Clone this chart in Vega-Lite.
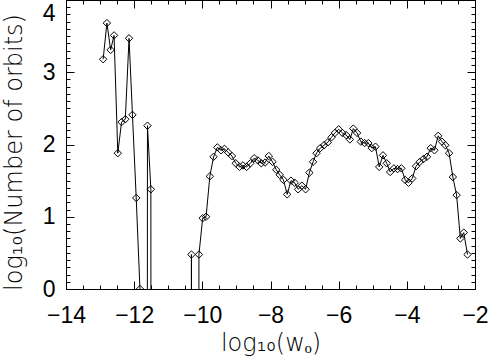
{
  "$schema": "https://vega.github.io/schema/vega-lite/v6.json",
  "width": 409,
  "height": 289,
  "autosize": "none",
  "padding": {"left": 66, "top": 0, "right": 16, "bottom": 70},
  "background": "white",
  "config": {
    "view": {"stroke": "black", "strokeWidth": 1},
    "axis": {
      "grid": false,
      "labelFont": "Liberation Sans",
      "labelFontSize": 23,
      "labelColor": "black",
      "titleFont": "DejaVu Sans",
      "titleFontSize": 24,
      "titleFontWeight": 300,
      "titleColor": "black",
      "domainColor": "black",
      "tickColor": "black",
      "tickWidth": 1,
      "domainWidth": 1,
      "labelOverlap": false
    }
  },
  "data": {
    "values": [
      {"x": -12.91, "y": 3.18}, {"x": -12.80, "y": 3.68}, {"x": -12.69, "y": 3.31}, {"x": -12.59, "y": 3.51},
      {"x": -12.48, "y": 1.88}, {"x": -12.37, "y": 2.31}, {"x": -12.26, "y": 2.35}, {"x": -12.15, "y": 3.47},
      {"x": -12.05, "y": 2.41}, {"x": -11.94, "y": 1.26}, {"x": -11.83, "y": 0}, {"x": -11.72, "y": -99},
      {"x": -11.61, "y": 2.26}, {"x": -11.51, "y": 1.38}, {"x": -11.40, "y": -99}, {"x": -11.29, "y": -99},
      {"x": -11.18, "y": -99}, {"x": -11.07, "y": -99}, {"x": -10.97, "y": -99}, {"x": -10.86, "y": -99},
      {"x": -10.75, "y": -99}, {"x": -10.64, "y": -99}, {"x": -10.53, "y": -99}, {"x": -10.43, "y": -99},
      {"x": -10.32, "y": 0.477}, {"x": -10.21, "y": -99}, {"x": -10.10, "y": 0.477}, {"x": -9.99, "y": 0.98},
      {"x": -9.89, "y": 1.0}, {"x": -9.78, "y": 1.56}, {"x": -9.67, "y": 1.83}, {"x": -9.56, "y": 1.96},
      {"x": -9.45, "y": 1.92}, {"x": -9.35, "y": 1.94}, {"x": -9.24, "y": 1.89}, {"x": -9.13, "y": 1.84},
      {"x": -9.02, "y": 1.74}, {"x": -8.91, "y": 1.69}, {"x": -8.81, "y": 1.71}, {"x": -8.70, "y": 1.69},
      {"x": -8.59, "y": 1.74}, {"x": -8.48, "y": 1.81}, {"x": -8.37, "y": 1.78}, {"x": -8.27, "y": 1.74},
      {"x": -8.16, "y": 1.75}, {"x": -8.05, "y": 1.84}, {"x": -7.94, "y": 1.76}, {"x": -7.83, "y": 1.65},
      {"x": -7.73, "y": 1.58}, {"x": -7.62, "y": 1.51}, {"x": -7.51, "y": 1.31}, {"x": -7.40, "y": 1.50},
      {"x": -7.29, "y": 1.47}, {"x": -7.19, "y": 1.38}, {"x": -7.08, "y": 1.43}, {"x": -6.97, "y": 1.38},
      {"x": -6.86, "y": 1.61}, {"x": -6.75, "y": 1.76}, {"x": -6.65, "y": 1.88}, {"x": -6.54, "y": 1.95},
      {"x": -6.43, "y": 1.99}, {"x": -6.32, "y": 2.03}, {"x": -6.21, "y": 2.10}, {"x": -6.11, "y": 2.16},
      {"x": -6.00, "y": 2.21}, {"x": -5.89, "y": 2.16}, {"x": -5.78, "y": 2.13}, {"x": -5.67, "y": 2.07},
      {"x": -5.57, "y": 2.22}, {"x": -5.46, "y": 2.16}, {"x": -5.35, "y": 2.04}, {"x": -5.24, "y": 2.02},
      {"x": -5.13, "y": 2.02}, {"x": -5.03, "y": 1.95}, {"x": -4.92, "y": 1.97}, {"x": -4.81, "y": 1.69},
      {"x": -4.70, "y": 1.85}, {"x": -4.59, "y": 1.74}, {"x": -4.49, "y": 1.62}, {"x": -4.38, "y": 1.67},
      {"x": -4.27, "y": 1.66}, {"x": -4.16, "y": 1.67}, {"x": -4.05, "y": 1.51}, {"x": -3.95, "y": 1.47},
      {"x": -3.84, "y": 1.53}, {"x": -3.73, "y": 1.70}, {"x": -3.62, "y": 1.76}, {"x": -3.51, "y": 1.80},
      {"x": -3.41, "y": 1.83}, {"x": -3.30, "y": 1.95}, {"x": -3.19, "y": 1.92}, {"x": -3.08, "y": 2.12},
      {"x": -2.97, "y": 2.04}, {"x": -2.87, "y": 1.99}, {"x": -2.76, "y": 1.88}, {"x": -2.65, "y": 1.55},
      {"x": -2.54, "y": 1.30}, {"x": -2.43, "y": 0.70}, {"x": -2.33, "y": 0.78}, {"x": -2.22, "y": 0.477}
    ]
  },
  "layer": [
    {
      "mark": {"type": "line", "color": "black", "strokeWidth": 1, "clip": true},
      "encoding": {
        "x": {"field": "x", "type": "quantitative",
          "scale": {"domain": [-14, -2], "nice": false, "zero": false},
          "axis": {"orient": "bottom", "values": [-14, -12, -10, -8, -6, -4, -2], "tickSize": -8,
            "labelPadding": 23, "format": "d", "labelFlush": false,
            "title": "log₁₀(wₒ)", "titleY": 61, "titleBaseline": "alphabetic"}},
        "y": {"field": "y", "type": "quantitative",
          "scale": {"domain": [0, 4], "nice": false, "zero": false},
          "axis": {"orient": "left", "values": [0, 1, 2, 3, 4], "tickSize": -8,
            "labelPadding": 19, "format": "d", "labelFlush": false,
            "labelOffset": {"condition": {"test": "datum.value == 4", "value": 13}, "value": 0},
            "title": "log₁₀(Number of orbits)", "titleX": -45, "titleY": 152, "titleBaseline": "alphabetic"}}
      }
    },
    {
      "mark": {"type": "point", "shape": "diamond", "filled": false, "size": 55, "stroke": "black", "strokeWidth": 1, "opacity": 1, "clip": true},
      "encoding": {
        "x": {"field": "x", "type": "quantitative",
          "scale": {"domain": [-14, -2], "nice": false, "zero": false},
          "axis": {"orient": "bottom", "values": [-14, -13.5, -13, -12.5, -12, -11.5, -11, -10.5, -10, -9.5, -9, -8.5, -8, -7.5, -7, -6.5, -6, -5.5, -5, -4.5, -4, -3.5, -3, -2.5, -2],
            "tickSize": -4, "labels": false, "domain": false, "title": null}},
        "y": {"field": "y", "type": "quantitative",
          "scale": {"domain": [0, 4], "nice": false, "zero": false},
          "axis": {"orient": "left", "values": [0, 0.1, 0.2, 0.3, 0.4, 0.5, 0.6, 0.7, 0.8, 0.9, 1, 1.1, 1.2, 1.3, 1.4, 1.5, 1.6, 1.7, 1.8, 1.9, 2, 2.1, 2.2, 2.3, 2.4, 2.5, 2.6, 2.7, 2.8, 2.9, 3, 3.1, 3.2, 3.3, 3.4, 3.5, 3.6, 3.7, 3.8, 3.9, 4],
            "tickSize": -4, "labels": false, "domain": false, "title": null}}
      }
    },
    {
      "mark": {"type": "point", "opacity": 0, "clip": true},
      "encoding": {
        "x": {"field": "x", "type": "quantitative",
          "scale": {"domain": [-14, -2], "nice": false, "zero": false},
          "axis": {"orient": "top", "values": [-14, -12, -10, -8, -6, -4, -2], "tickSize": -8, "labels": false, "domain": false, "title": null}},
        "y": {"field": "y", "type": "quantitative",
          "scale": {"domain": [0, 4], "nice": false, "zero": false},
          "axis": {"orient": "right", "values": [0, 1, 2, 3, 4], "tickSize": -8, "labels": false, "domain": false, "title": null}}
      }
    },
    {
      "mark": {"type": "point", "opacity": 0, "clip": true},
      "encoding": {
        "x": {"field": "x", "type": "quantitative",
          "scale": {"domain": [-14, -2], "nice": false, "zero": false},
          "axis": {"orient": "top", "values": [-14, -13.5, -13, -12.5, -12, -11.5, -11, -10.5, -10, -9.5, -9, -8.5, -8, -7.5, -7, -6.5, -6, -5.5, -5, -4.5, -4, -3.5, -3, -2.5, -2],
            "tickSize": -4, "labels": false, "domain": false, "title": null}},
        "y": {"field": "y", "type": "quantitative",
          "scale": {"domain": [0, 4], "nice": false, "zero": false},
          "axis": {"orient": "right", "values": [0, 0.1, 0.2, 0.3, 0.4, 0.5, 0.6, 0.7, 0.8, 0.9, 1, 1.1, 1.2, 1.3, 1.4, 1.5, 1.6, 1.7, 1.8, 1.9, 2, 2.1, 2.2, 2.3, 2.4, 2.5, 2.6, 2.7, 2.8, 2.9, 3, 3.1, 3.2, 3.3, 3.4, 3.5, 3.6, 3.7, 3.8, 3.9, 4],
            "tickSize": -4, "labels": false, "domain": false, "title": null}}
      }
    }
  ],
  "resolve": {"axis": {"x": "independent", "y": "independent"}}
}
